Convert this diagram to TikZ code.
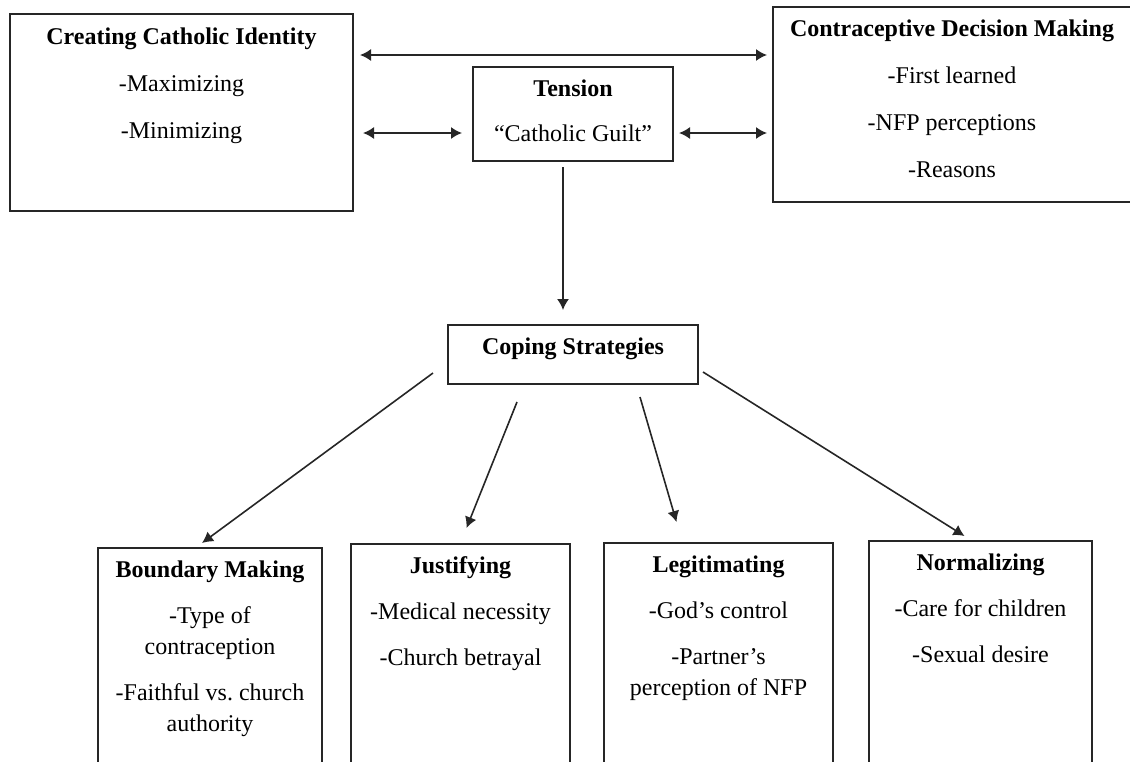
\documentclass[tikz,border=0pt]{standalone}
\usepackage{fontspec}
\setmainfont{Liberation Serif}
\usetikzlibrary{arrows.meta,calc}

\begin{document}
\begin{tikzpicture}[
        x=0.5pt, y=-0.5pt,
        box/.style={
            draw=black!85,
            line width=1pt,
            inner sep=0pt,
            outer sep=0pt,
            anchor=north west,
        },
        txt/.style={
            anchor=north,
            inner sep=0pt,
            align=center,
            font=\fontsize{12}{15.5}\selectfont,
        },
        arr/.style={
            draw=black!85,
            line width=0.8pt,
            -{Latex[length=5.5pt,width=6pt]},
        },
        dblarr/.style={
            arr,
            {Latex[length=5.5pt,width=6pt]}-{Latex[length=5.5pt,width=6pt]},
        },
    ]

    \useasboundingbox (0, 0) rectangle (1130, 761);
    \clip (0, 0) rectangle (1130, 761);

    % top row
    \node[box, minimum width=171.5pt, minimum height=98.5pt] (ident)   at (10, 14)  {};
    \node[box, minimum width=100pt,   minimum height=47pt]   (tension) at (473, 67) {};
    \node[box, minimum width=179pt,   minimum height=97.5pt] (cdm)     at (773, 7)  {};

    \node[txt] (ident-txt) at ([yshift=-6.5pt]ident.north)
        {\textbf{Creating Catholic Identity}\\[8pt] -Maximizing\\[8pt] -Minimizing};
    \node[txt] (tension-txt) at ([yshift=-6pt]tension.north)
        {\textbf{Tension}\\[7pt] “Catholic Guilt”};
    \node[txt] (cdm-txt) at ([yshift=-6pt]cdm.north)
        {\textbf{Contraceptive Decision Making}\\[8pt] -First learned\\[8pt] -NFP perceptions\\[8pt] -Reasons};

    % middle
    \node[box, minimum width=125pt, minimum height=29.5pt] (coping) at (448, 325) {};
    \node[txt] (coping-txt) at ([yshift=-6pt]coping.north) {\textbf{Coping Strategies}};

    % bottom row
    \node[box, minimum width=112pt,   minimum height=130pt] (bound)   at (98, 548)  {};
    \node[box, minimum width=109.5pt, minimum height=132pt] (justify) at (351, 544) {};
    \node[box, minimum width=114.5pt, minimum height=133pt] (legit)   at (604, 543) {};
    \node[box, minimum width=111.5pt, minimum height=134pt] (normal)  at (869, 541) {};

    \node[txt] (bound-txt) at ([yshift=-6pt]bound.north)
        {\textbf{Boundary Making}\\[7.5pt] -Type of\\ contraception\\[7.5pt] -Faithful vs.\ church\\ authority};
    \node[txt] (justify-txt) at ([yshift=-6pt]justify.north)
        {\textbf{Justifying}\\[7.5pt] -Medical necessity\\[7.5pt] -Church betrayal};
    \node[txt] (legit-txt) at ([yshift=-6pt]legit.north)
        {\textbf{Legitimating}\\[7.5pt] -God’s control\\[7.5pt] -Partner’s\\ perception of NFP};
    \node[txt] (normal-txt) at ([yshift=-6pt]normal.north)
        {\textbf{Normalizing}\\[7.5pt] -Care for children\\[7.5pt] -Sexual desire};

    % connectors
    \draw[dblarr, shorten <=3.5pt, shorten >=3pt]   (ident.east |- 0, 55)    -- (cdm.west |- 0, 55);
    \draw[dblarr, shorten <=5pt,   shorten >=5.5pt] (ident.east |- 0, 133)   -- (tension.west |- 0, 133);
    \draw[dblarr, shorten <=3pt,   shorten >=3pt]   (tension.east |- 0, 133) -- (cdm.west |- 0, 133);
    \draw[arr,    shorten <=3pt,   shorten >=7.5pt] (tension.south -| 563, 0) -- (coping.north -| 563, 0);

    \draw[arr] ($(coping.south west)+(-15, -11)$) -- ($(bound.north)+(-8, -5)$);
    \draw[arr] ($(coping.south)+(-56, 18)$)       -- ($(justify.north)+(6, -16)$);
    \draw[arr] ($(coping.south)+(67, 13)$)        -- ($(legit.north)+(-42, -21)$);
    \draw[arr] ($(coping.south east)+(5, -12)$)   -- ($(normal.north)+(-16, -5)$);

\end{tikzpicture}
\end{document}
